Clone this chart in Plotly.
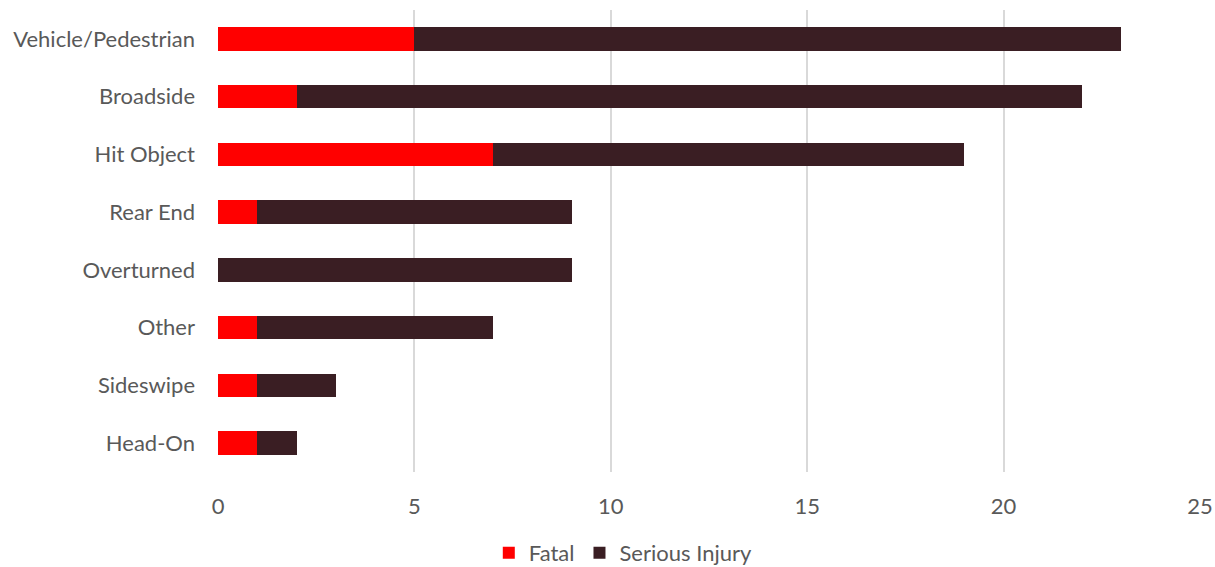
import plotly.graph_objects as go

categories = ["Vehicle/Pedestrian", "Broadside", "Hit Object", "Rear End",
              "Overturned", "Other", "Sideswipe", "Head-On"]
fatal = [5, 2, 7, 1, 0, 1, 1, 1]
serious_injury = [18, 20, 12, 8, 9, 6, 2, 1]
x_ticks = [0, 5, 10, 15, 20, 25]

FONT = "Lato, Open Sans, sans-serif"
TEXT = "#595959"

fig = go.Figure()
fig.add_trace(go.Bar(
    y=categories, x=fatal, name="Fatal", orientation="h",
    marker=dict(color="#FF0000", line=dict(width=0)),
))
fig.add_trace(go.Bar(
    y=categories, x=serious_injury, name="Serious Injury", orientation="h",
    marker=dict(color="#3A1E23", line=dict(width=0)),
))

fig.update_layout(
    barmode="stack",
    bargap=0.59,
    width=1215, height=567,
    margin=dict(l=218, r=15, t=10, b=95, autoexpand=False),
    paper_bgcolor="white", plot_bgcolor="white",
    font=dict(family=FONT, size=22, color=TEXT),
    legend=dict(
        orientation="h", xref="container", yref="container",
        x=0.513, xanchor="center", y=0.025, yanchor="middle",
        font=dict(size=22, color=TEXT), itemwidth=30, traceorder="normal",
    ),
    xaxis=dict(
        range=[0, 25], tickvals=x_ticks, showgrid=True,
        gridcolor="#D9D9D9", gridwidth=1.5, zeroline=False,
        showline=False, ticklabelstandoff=19, automargin=False,
    ),
    yaxis=dict(
        categoryorder="array", categoryarray=categories[::-1],
        showgrid=False, showline=False, zeroline=False,
        ticklabelstandoff=22, automargin=False,
    ),
)

fig.write_html("out.html")
